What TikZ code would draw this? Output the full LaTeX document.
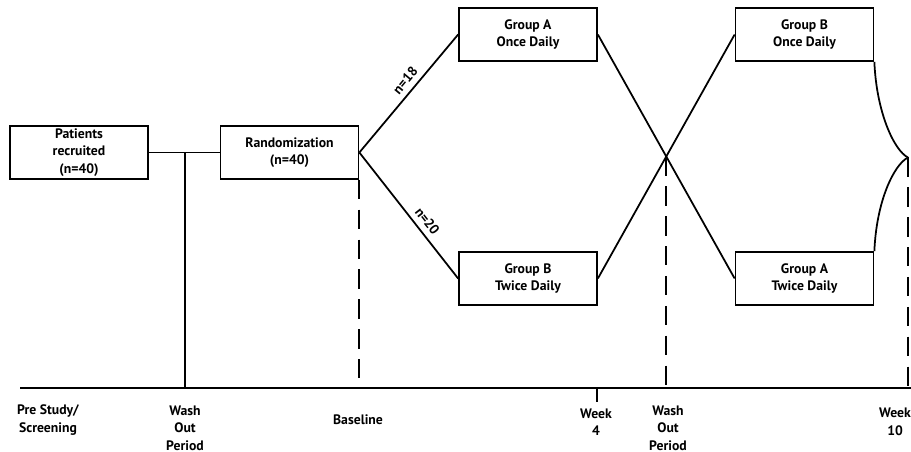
\documentclass[tikz,border=0pt]{standalone}
\usepackage{fontspec}
\setmainfont{PT Sans}
\usepackage{tikz}
\usetikzlibrary{calc}

\begin{document}
\begin{tikzpicture}[x=0.02cm, y=-0.02cm, line width=1pt,
  box/.style={draw, minimum width=2.76cm, minimum height=1.06cm, align=center, inner sep=1pt, font=\fontsize{7.8}{10}\selectfont\bfseries},
  lbl/.style={align=center, inner sep=0pt, font=\fontsize{7.8}{10}\selectfont\bfseries},
  dashline/.style={dash pattern=on 11pt off 6pt}]

\useasboundingbox (0,0) rectangle (911,452);

% Boxes
\node[box] (pat)  at ( 79.0,152.5) {Patients\\recruited\\(n=40)};
\node[box] (rand) at (289.5,152.5) {Randomization\\(n=40)};
\node[box] (gaod) at (528.0, 34.5) {Group A\\Once Daily};
\node[box] (gbtd) at (528.0,278.5) {Group B\\Twice Daily};
\node[box] (gbod) at (804.5, 34.5) {Group B\\Once Daily};
\node[box] (gatd) at (804.5,278.5) {Group A\\Twice Daily};

% Time axis
\coordinate (axl) at ( 20,388);
\coordinate (axr) at (911,388);
\draw (axl) -- (axr);

% Screening -> randomization
\coordinate (wash1) at (185,152.5);
\draw (pat) -- (rand);
\draw (wash1) -- (wash1 |- axl);
\draw [dashline] (rand.south east) -- (rand.south east |- axl);

% Randomization into two arms
\draw (rand.east) -- node[pos=0.55, sloped, above=3pt, lbl] {n=18} (gaod.west);
\draw (rand.east) -- node[pos=0.6, sloped, above=3pt, lbl] {n=20} (gbtd.west);

% Cross over
\coordinate (cross) at ($(gaod.east)!0.5!(gatd.west)$);
\draw (gaod.east) -- (gatd.west);
\draw (gbtd.east) -- (gbod.west);
\draw [dashline] (cross) -- (cross |- axl);

% Week 4 tick
\coordinate (wk4) at (597,388);
\draw (wk4) -- ++(0,14);

% End of study
\coordinate (wk10) at (908,157.5);
\draw (gbod.south east) .. controls +(2,50) and +(-14,-7) .. (wk10);
\draw (gatd.north east) .. controls +(2,-50) and +(-14,7) .. (wk10);
\draw [dashline] (wk10) -- (wk10 |- axl);

% Time point labels
\node[lbl] (pre)  at ( 48,420) {Pre Study/\\Screening};
\node[lbl] (wo1)  at (185,428) {Wash\\Out\\Period};
\node[lbl] (base) at (358,420) {Baseline};
\node[lbl] (w4)   at (596,422) {Week\\4};
\node[lbl] (wo2)  at (668,428) {Wash\\Out\\Period};
\node[lbl] (w10)  at (895,422) {Week\\10};

\end{tikzpicture}
\end{document}
